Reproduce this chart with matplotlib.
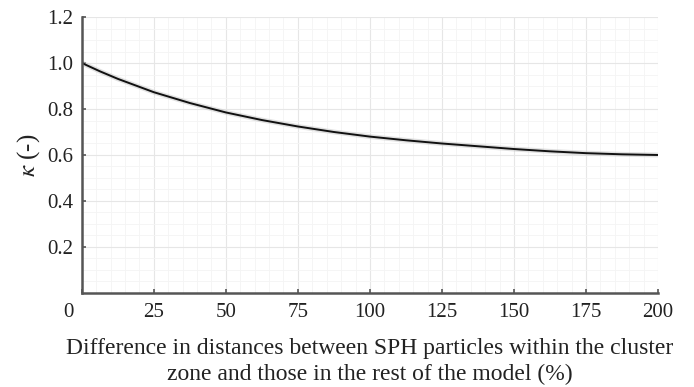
import matplotlib
matplotlib.use("Agg")
import matplotlib.pyplot as plt
from matplotlib.ticker import MultipleLocator
from matplotlib.transforms import ScaledTranslation

# values
diff_pct = [0, 6.25, 12.5, 25, 37.5, 50, 62.5, 75, 87.5, 100, 112.5, 125, 137.5,
            150, 162.5, 175, 187.5, 200]
kappa = [1.0, 0.964, 0.931, 0.873, 0.826, 0.785, 0.752, 0.724, 0.700, 0.680, 0.664,
         0.650, 0.638, 0.626, 0.616, 0.608, 0.603, 0.600]

x_ticks = [0, 25, 50, 75, 100, 125, 150, 175, 200]
y_ticks = [0.2, 0.4, 0.6, 0.8, 1.0, 1.2]

plt.rcParams['font.family'] = ['Liberation Serif', 'DejaVu Serif']
plt.rcParams['mathtext.fontset'] = 'stix'

fig = plt.figure(figsize=(6.94, 3.87), dpi=100)
fig.patch.set_facecolor('white')
ax = fig.add_axes([0.118, 0.243, 0.83, 0.713])

# soft shadow under the curve, then the curve itself
ax.plot(diff_pct, kappa, color='#c4c4c4', lw=3.5, alpha=0.5, solid_capstyle='butt')
ax.plot(diff_pct, kappa, color='#111111', lw=1.4)

ax.set_xlim(0, 200)
ax.set_ylim(0, 1.2)
ax.set_xticks(x_ticks)
ax.set_yticks(y_ticks)
ax.set_yticklabels([f"{v:.1f}" for v in y_ticks])
ax.xaxis.set_minor_locator(MultipleLocator(5))
ax.yaxis.set_minor_locator(MultipleLocator(0.05))

ax.grid(True, which='major', color='#e6e6e6', lw=0.8)
ax.grid(True, which='minor', color='#f4f4f4', lw=0.6)
ax.set_axisbelow(True)

for side in ['top', 'right']:
    ax.spines[side].set_visible(False)
for side in ['left', 'bottom']:
    ax.spines[side].set_color('#555555')
    ax.spines[side].set_linewidth(1.8)

ax.tick_params(which='major', direction='in', length=3, width=1.2, color='#555555',
               labelsize=15, labelcolor='#222222')
ax.tick_params(axis='x', pad=7)
ax.tick_params(axis='y', pad=6)
ax.tick_params(which='minor', length=0)

# the "0" label sits left of the origin in the reference
lbl0 = ax.get_xticklabels()[0]
lbl0.set_transform(lbl0.get_transform() + ScaledTranslation(-10 / 72, 0, fig.dpi_scale_trans))

ax.set_ylabel(r'$\kappa$ (-)', fontsize=18, color='#222222', labelpad=4)
ax.set_xlabel('Difference in distances between SPH particles within the cluster\n'
              'zone and those in the rest of the model (%)',
              fontsize=17, color='#222222', labelpad=12, linespacing=1.3)

fig.savefig('out.png', dpi=100, facecolor='white')
